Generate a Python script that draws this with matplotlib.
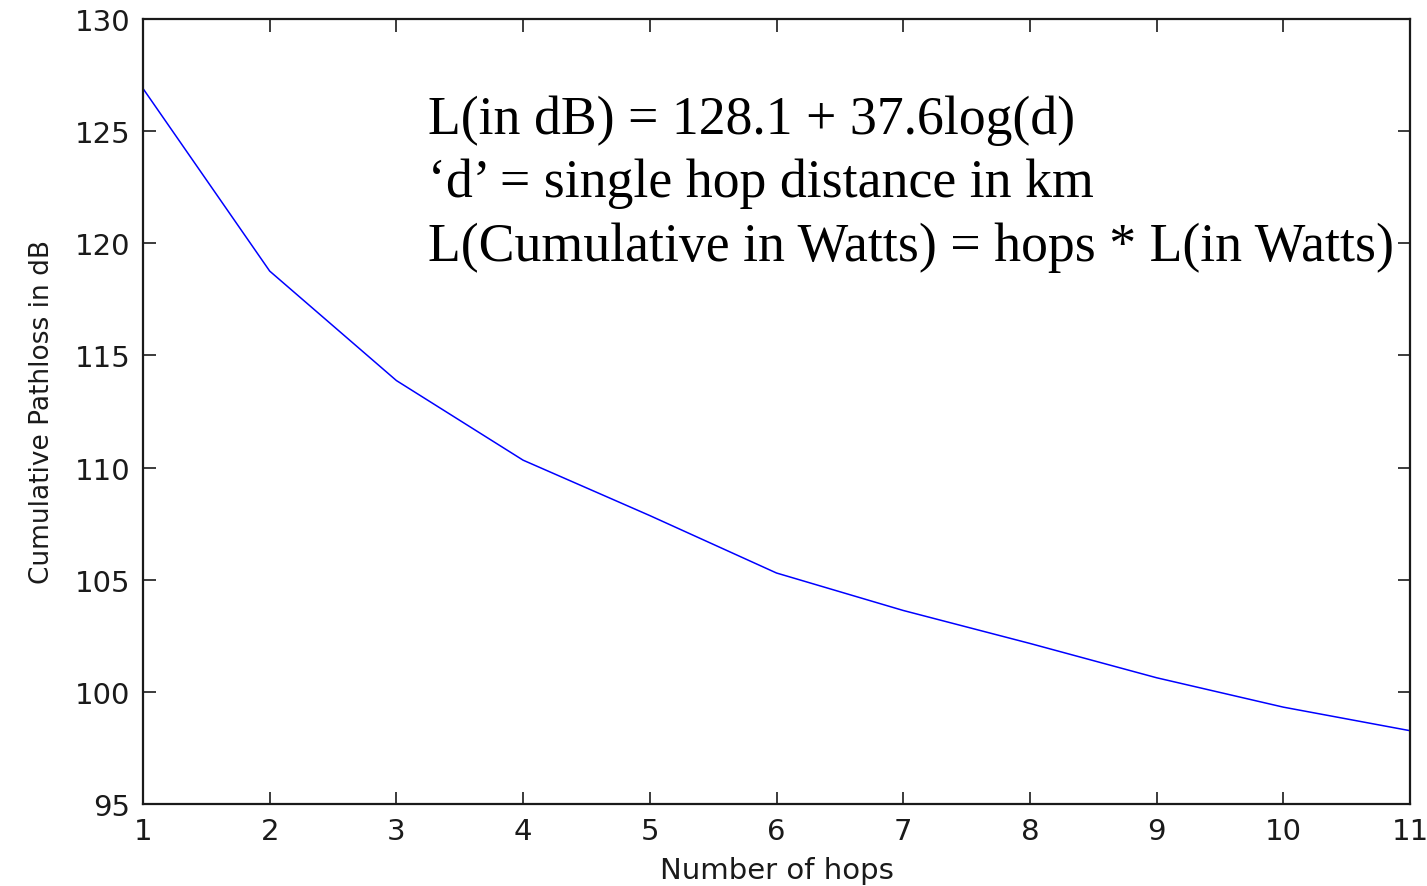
import matplotlib
matplotlib.use('Agg')
import matplotlib.pyplot as plt

# --- data ---
hops = [1, 2, 3, 4, 5, 6, 7, 8, 9, 10, 11]
pathloss_db = [126.9, 118.76, 113.88, 110.33, 107.86, 105.3, 103.63, 102.16, 100.63, 99.32, 98.27]

x_ticks = list(range(1, 12))
y_ticks = [95, 100, 105, 110, 115, 120, 125, 130]

notes = [
    'L(in dB) = 128.1 + 37.6log(d)',
    '\u2018d\u2019 = single hop distance in km',
    'L(Cumulative in Watts) = hops * L(in Watts)',
]

fig = plt.figure(figsize=(14.27, 8.87), dpi=100)
ax = fig.add_axes([0.1002, 0.0924, 0.8879, 0.8851])

ax.plot(hops, pathloss_db, color='#0000ff', lw=1.1)

ax.set_xlim(1, 11)
ax.set_ylim(95, 130)
ax.set_xticks(x_ticks)
ax.set_yticks(y_ticks)
ax.tick_params(direction='in', length=9, width=1.2, top=True, right=True,
               labelsize=21, pad=9, colors='#1a1a1a')
for s in ax.spines.values():
    s.set_linewidth(1.6)
    s.set_color('#1a1a1a')

ax.set_xlabel('Number of hops', fontsize=21, color='#1a1a1a', labelpad=8)
ax.set_ylabel('Cumulative Pathloss in dB', fontsize=19, color='#1a1a1a', labelpad=14)

# --- annotation block (serif, like the original) ---
for i, line in enumerate(notes):
    fig.text(0.300, 0.864 - i * 0.0715, line, fontsize=38.7,
             family='Liberation Serif', va='center', ha='left')

fig.savefig('out.png', dpi=100)
